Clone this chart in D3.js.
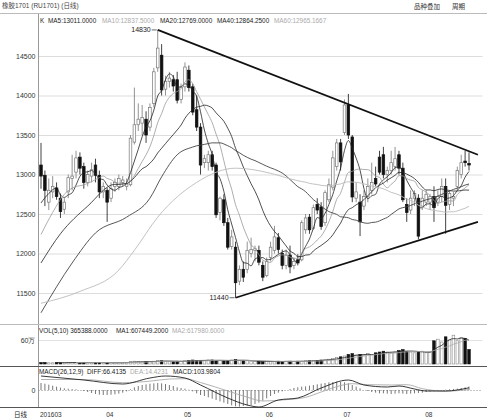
<!DOCTYPE html>
<html><head><meta charset="utf-8">
<script src="https://cdn.jsdelivr.net/npm/d3@7"></script>
<style>
html,body{margin:0;padding:0;background:#fff;}
svg{display:block;font-family:"Liberation Sans","Noto Sans CJK SC",sans-serif;}
</style></head><body>
<svg id="c" width="487" height="419"></svg>
<script>
// ---------- data ----------
const monthIdx = [0, 17, 37, 58, 78, 99];
const monthLabels = ["201603", "04", "05", "06", "07", "08"];
const priceTicks = [11500, 12000, 12500, 13000, 13500, 14000, 14500];

const open = [13120,12990,12650,12780,12830,12700,12560,12780,12950,13030,
 13220,13100,12900,12980,13120,12990,12780,12800,12700,12850,
 12850,12900,12850,12870,13410,13630,13650,13700,13600,13900,
 14350,14510,14080,14180,14200,14200,13950,14110,14320,14110,
 13820,13600,13150,13150,13250,13120,12520,12680,12390,12090,
 12080,11650,11800,11800,12000,12040,12040,11850,11720,11950,
 12040,12200,12000,11850,11980,11850,11920,11920,12300,12460,
 12320,12620,12590,12390,12680,12840,13100,13400,13530,13880,
 13475,12700,12650,12600,12720,12800,12950,13220,13250,13000,
 13050,13100,13250,13080,12620,12550,12700,12700,12600,12650,
 12650,12720,12650,12720,12850,12620,12700,12850,13000,13170,13140];
const high = [13400,13050,12950,12980,12900,12760,12700,13000,13250,13300,
 13280,13150,13050,13150,13200,13050,12900,12830,12900,12950,
 13000,12980,12950,13500,14100,13900,13880,13800,13900,14350,
 14830,14650,14250,14300,14260,14300,14150,14420,14380,14150,
 14000,13650,13250,13300,13300,13150,12720,12750,12450,12300,
 12150,11850,11900,12150,12200,12100,12100,11900,11950,12150,
 12350,12260,12050,12050,12100,11950,11990,12420,12500,12500,
 12620,12700,12650,12800,12950,13300,13450,13450,13950,14020,
 13500,12900,12750,12800,12950,13150,13100,13300,13350,13100,
 13300,13350,13300,13150,12700,12800,12800,12750,12800,12800,
 12750,12850,12800,12950,12950,12800,12780,13100,13250,13300,13280];
const low = [12820,12600,12550,12700,12680,12450,12500,12700,12800,12950,
 13000,12820,12850,12900,12900,12700,12700,12400,12650,12780,
 12800,12850,12800,12850,13380,13550,13500,13400,13550,13850,
 14300,14000,14000,14100,14050,13900,13900,14050,14050,13750,
 13550,13000,13080,13050,13050,12450,12420,12350,12050,12050,
 11440,11600,11640,11750,11950,11900,11850,11650,11700,11900,
 12000,12000,11800,11800,11750,11800,11850,11900,12250,12250,
 12300,12500,12300,12350,12650,12800,13050,13050,13500,13450,
 12650,12650,12220,12550,12650,12750,12850,13000,12950,12900,
 13000,13050,13000,12650,12400,12500,12600,12180,12550,12600,
 12550,12400,12600,12650,12250,12550,12600,12800,12950,13100,13050];
const close = [12980,12800,12800,12850,12720,12530,12650,12960,12980,13210,
 13080,12900,13000,13060,12990,12780,12850,12650,12820,12900,
 12950,12930,12880,13460,13630,13700,13720,13500,13850,14300,
 14600,14070,14180,14220,14120,13940,14100,14360,14100,13790,
 13600,13120,13200,13250,13100,12490,12700,12390,12080,12210,
 11630,11800,11700,12040,12050,12060,11890,11700,11900,12080,
 12210,12050,11850,11980,11830,11900,11880,12390,12450,12300,
 12580,12550,12340,12770,12870,13210,13400,13160,13880,13500,
 12715,12780,12400,12720,12850,12900,12880,13030,13000,13050,
 13150,13200,13080,12680,12520,12700,12760,12220,12700,12750,
 12720,12580,12720,12850,12610,12760,12720,13050,13150,13150,13120];

// volume, in 万 (10,000 lots)
const volume = [4,4,3,3,4,3,3,4,4,4,3,4,3,3,4,4,3,
 3,3,3,4,3,4,6,7,6,5,6,6,7,9,8,7,6,6,7,7,
 8,9,10,9,8,9,10,10,9,8,8,9,10,11,9,8,8,7,7,7,6,
 6,6,6,7,6,7,7,6,7,7,8,8,9,9,10,11,12,14,16,18,
 20,24,26,22,24,22,26,24,28,30,32,30,28,30,34,36,32,30,28,30,32,
 28,30,58,62,55,68,60,72,58,66,64,36.5];

// MACD histogram bars
const macdHist = [210,190,160,130,100,70,50,40,30,20,
 0,-30,-60,-90,-120,-140,-150,-150,-140,-130,-110,-80,-40,20,
 80,120,150,170,190,200,210,200,180,150,120,80,60,40,10,
 -40,-100,-150,-180,-220,-260,-300,-340,-380,-420,-460,-490,-500,-480,-470,
 -450,-420,-380,-320,-250,-180,-120,-80,-40,0,30,60,
 80,100,110,130,150,170,190,210,230,240,250,240,230,200,150,100,
 50,0,-30,-60,-80,-100,-100,-110,-120,-110,-100,-110,-120,-110,-100,-90,
 -80,-60,-50,-40,-20,0,10,20,30,40,60,80,104];
// DIFF / DEA read at points along the lines: [bar index, value]
const diffPts = [[0,420],[11,300],[21,180],[28,360],[32,420],[37,360],[41,150],[48,-240],[53,-450],[56,-510],[61,-300],[66,-240],[72,60],[79,300],[83,150],[89,90],[92,120],[96,30],[99,-30],[104,-30],[110,66.4]];
const deaPts = [[0,315],[11,315],[21,220],[28,265],[33,330],[37,340],[41,225],[48,-30],[53,-215],[57,-330],[63,-290],[68,-220],[72,-60],[76,100],[80,190],[84,160],[90,150],[94,160],[98,40],[104,-35],[110,14.4]];

// leading parts of the moving averages (before the window is full)
const ma5Lead = [[0,12640],[2,12760]];
const ma10Lead = [[0,12240],[3,12520],[6,12750]];
const ma20Lead = [[0,11880],[5,12250],[12,12600]];
const ma40Lead = [[0,11250],[8,11880],[14,12260],[22,12460],[28,12700],[31,12970],[35,13250]];
const ma60Lead = [[0,11370],[10,11520],[20,11790],[24,12040],[30,12460],[40,12900],[50,13080]];

// trend lines [bar index, price]
const upperTrend = [[30,14830],[112.3,13250]];
const lowerTrend = [[50,11440],[112.3,12400]];

// legend texts
const mainLegend = [["K",40,"#222"],["MA5:13011.0000",48,"#222"],["MA10:12837.5000",102,"#aaa"],["MA20:12769.0000",160,"#222"],["MA40:12864.2500",217,"#222"],["MA60:12965.1667",274,"#aaa"]];
const volLegend = [["VOL(5,10) 365388.0000",39,"#222"],["MA1:607449.2000",116,"#222"],["MA2:617980.6000",172,"#aaa"]];
const macdLegend = [["MACD(26,12,9)",39,"#222"],["DIFF:66.4135",87,"#222"],["DEA:14.4231",130,"#aaa"],["MACD:103.9804",173,"#222"]];

// ---------- drawing ----------
const svg = d3.select("#c");
const N = close.length;
const x = d3.scaleLinear().domain([0, N - 1]).range([41, 469]);
const yP = d3.scaleLinear().domain([11500, 14500]).range([293, 56]);
const yV = d3.scaleLinear().domain([0, 60]).range([364, 340]);
const yM = d3.scaleLinear().domain([-510, 690]).range([407, 367]);
const bw = 2.6;

// header
svg.append("text").attr("x", 2).attr("y", 8).attr("font-size", 6.5).attr("fill", "#444").text("橡胶1701 (RU1701) (日线)");
svg.append("text").attr("x", 414).attr("y", 9).attr("font-size", 6.5).attr("fill", "#333").text("品种叠加");
svg.append("text").attr("x", 452).attr("y", 9).attr("font-size", 6.5).attr("fill", "#333").text("周期");
svg.append("line").attr("x1", 0).attr("x2", 487).attr("y1", 13.5).attr("y2", 13.5).attr("stroke", "#bbb");

// price grid + axis
const gP = svg.append("g").attr("transform", "translate(38.5,0)")
  .call(d3.axisLeft(yP).tickValues(priceTicks).tickSize(-444).tickPadding(3).tickFormat(d3.format("d")));
gP.select(".domain").remove();
gP.selectAll(".tick line").attr("stroke", "#ddd");
gP.selectAll(".tick text").attr("font-size", 7).attr("fill", "#333").attr("font-family", "Liberation Sans");

// volume axis
const gV = svg.append("g").attr("transform", "translate(38.5,0)")
  .call(d3.axisLeft(yV).tickValues([60]).tickSize(-444).tickPadding(3).tickFormat(d => d + "万"));
gV.select(".domain").remove();
gV.selectAll(".tick line").attr("stroke", "#e2e2e2");
gV.selectAll(".tick text").attr("font-size", 7).attr("fill", "#333");

// macd axis
const gM = svg.append("g").attr("transform", "translate(38.5,0)")
  .call(d3.axisLeft(yM).tickValues([0]).tickSize(-444).tickPadding(3));
gM.select(".domain").remove();
gM.selectAll(".tick line").attr("stroke", "#888").attr("stroke-dasharray", "1,2");
gM.selectAll(".tick text").attr("font-size", 7).attr("fill", "#333");

// frame lines
svg.append("line").attr("x1", 38.5).attr("x2", 38.5).attr("y1", 14).attr("y2", 407).attr("stroke", "#999");
svg.append("line").attr("x1", 0).attr("x2", 487).attr("y1", 324.5).attr("y2", 324.5).attr("stroke", "#bbb");
svg.append("line").attr("x1", 0).attr("x2", 487).attr("y1", 366.5).attr("y2", 366.5).attr("stroke", "#555");
svg.append("line").attr("x1", 0).attr("x2", 487).attr("y1", 407.5).attr("y2", 407.5).attr("stroke", "#555");

// legends
function legend(items, y) {
  items.forEach(([t, xx, c]) => svg.append("text").attr("x", xx).attr("y", y).attr("font-size", 6.4).attr("fill", c).text(t));
}
legend(mainLegend, 22.5);
legend(volLegend, 332.5);
legend(macdLegend, 374);

// x labels
svg.append("text").attr("x", 14).attr("y", 416.5).attr("font-size", 6.5).attr("fill", "#222").text("日线");
monthIdx.forEach((mi, k) => svg.append("text").attr("x", x(mi) - 1).attr("y", 416.5).attr("font-size", 6.5).attr("fill", "#333").text(monthLabels[k]));

// candles
const idx = d3.range(N);
const up = i => close[i] >= open[i];
const gC = svg.append("g");
gC.selectAll("line.w").data(idx).join("line")
  .attr("x1", i => x(i)).attr("x2", i => x(i))
  .attr("y1", i => yP(high[i])).attr("y2", i => yP(low[i]))
  .attr("stroke", i => up(i) ? "#777" : "#111").attr("stroke-width", 0.8);
gC.selectAll("rect").data(idx).join("rect")
  .attr("x", i => x(i) - bw / 2)
  .attr("y", i => yP(Math.max(open[i], close[i])))
  .attr("width", bw)
  .attr("height", i => Math.max(0.8, Math.abs(yP(open[i]) - yP(close[i]))))
  .attr("fill", i => up(i) ? "#fff" : "#111")
  .attr("stroke", i => up(i) ? "#777" : "#111").attr("stroke-width", 0.7);

// moving averages
function maPoints(arr, n, lead) {
  const pts = lead.filter(p => p[0] < n - 1).slice();
  for (let i = n - 1; i < arr.length; i++) pts.push([i, d3.mean(arr.slice(i - n + 1, i + 1))]);
  return pts;
}
const lineP = d3.line().x(d => x(d[0])).y(d => yP(d[1])).curve(d3.curveMonotoneX);
[[5, ma5Lead, "#222", 0.8], [10, ma10Lead, "#999", 0.8], [20, ma20Lead, "#222", 0.8], [40, ma40Lead, "#444", 0.9], [60, ma60Lead, "#bbb", 0.9]]
  .forEach(([n, lead, c, w]) => svg.append("path").attr("d", lineP(maPoints(close, n, lead)))
    .attr("fill", "none").attr("stroke", c).attr("stroke-width", w));

// trend lines
const lineT = d3.line().x(d => x(d[0])).y(d => yP(d[1]));
[upperTrend, lowerTrend].forEach(t => svg.append("path").attr("d", lineT(t)).attr("stroke", "#111").attr("stroke-width", 1.8).attr("fill", "none"));

// extreme labels
function extreme(i, v) {
  const yy = yP(v);
  svg.append("line").attr("x1", x(i) - 6).attr("x2", x(i) - 1).attr("y1", yy).attr("y2", yy).attr("stroke", "#444").attr("stroke-width", 0.8);
  svg.append("text").attr("x", x(i) - 7).attr("y", yy + 2.5).attr("text-anchor", "end").attr("font-size", 7).attr("fill", "#222").text(v);
}
extreme(30, 14830);
extreme(50, 11440);

// volume bars
const upV = i => close[i] >= open[i];
svg.append("g").selectAll("rect").data(idx).join("rect")
  .attr("x", i => x(i) - bw / 2).attr("y", i => yV(volume[i]))
  .attr("width", bw).attr("height", i => Math.max(0.5, yV(0) - yV(volume[i])))
  .attr("fill", i => upV(i) ? "#fff" : "#111")
  .attr("stroke", i => upV(i) ? "#888" : "#111").attr("stroke-width", 0.6);
const lineV = d3.line().x(d => x(d[0])).y(d => yV(d[1])).curve(d3.curveMonotoneX);
svg.append("path").attr("d", lineV(maPoints(volume, 5, []))).attr("fill", "none").attr("stroke", "#222").attr("stroke-width", 0.8);
svg.append("path").attr("d", lineV(maPoints(volume, 10, []))).attr("fill", "none").attr("stroke", "#aaa").attr("stroke-width", 0.8);

// MACD
svg.append("g").selectAll("line").data(idx).join("line")
  .attr("x1", i => x(i)).attr("x2", i => x(i))
  .attr("y1", yM(0)).attr("y2", i => yM(macdHist[i]))
  .attr("stroke", "#555").attr("stroke-width", 0.8);
const lineM = d3.line().x(d => x(d[0])).y(d => yM(d[1])).curve(d3.curveMonotoneX);
svg.append("path").attr("d", lineM(deaPts)).attr("fill", "none").attr("stroke", "#aaa").attr("stroke-width", 0.9);
svg.append("path").attr("d", lineM(diffPts)).attr("fill", "none").attr("stroke", "#222").attr("stroke-width", 0.9);
</script>
</body></html>
